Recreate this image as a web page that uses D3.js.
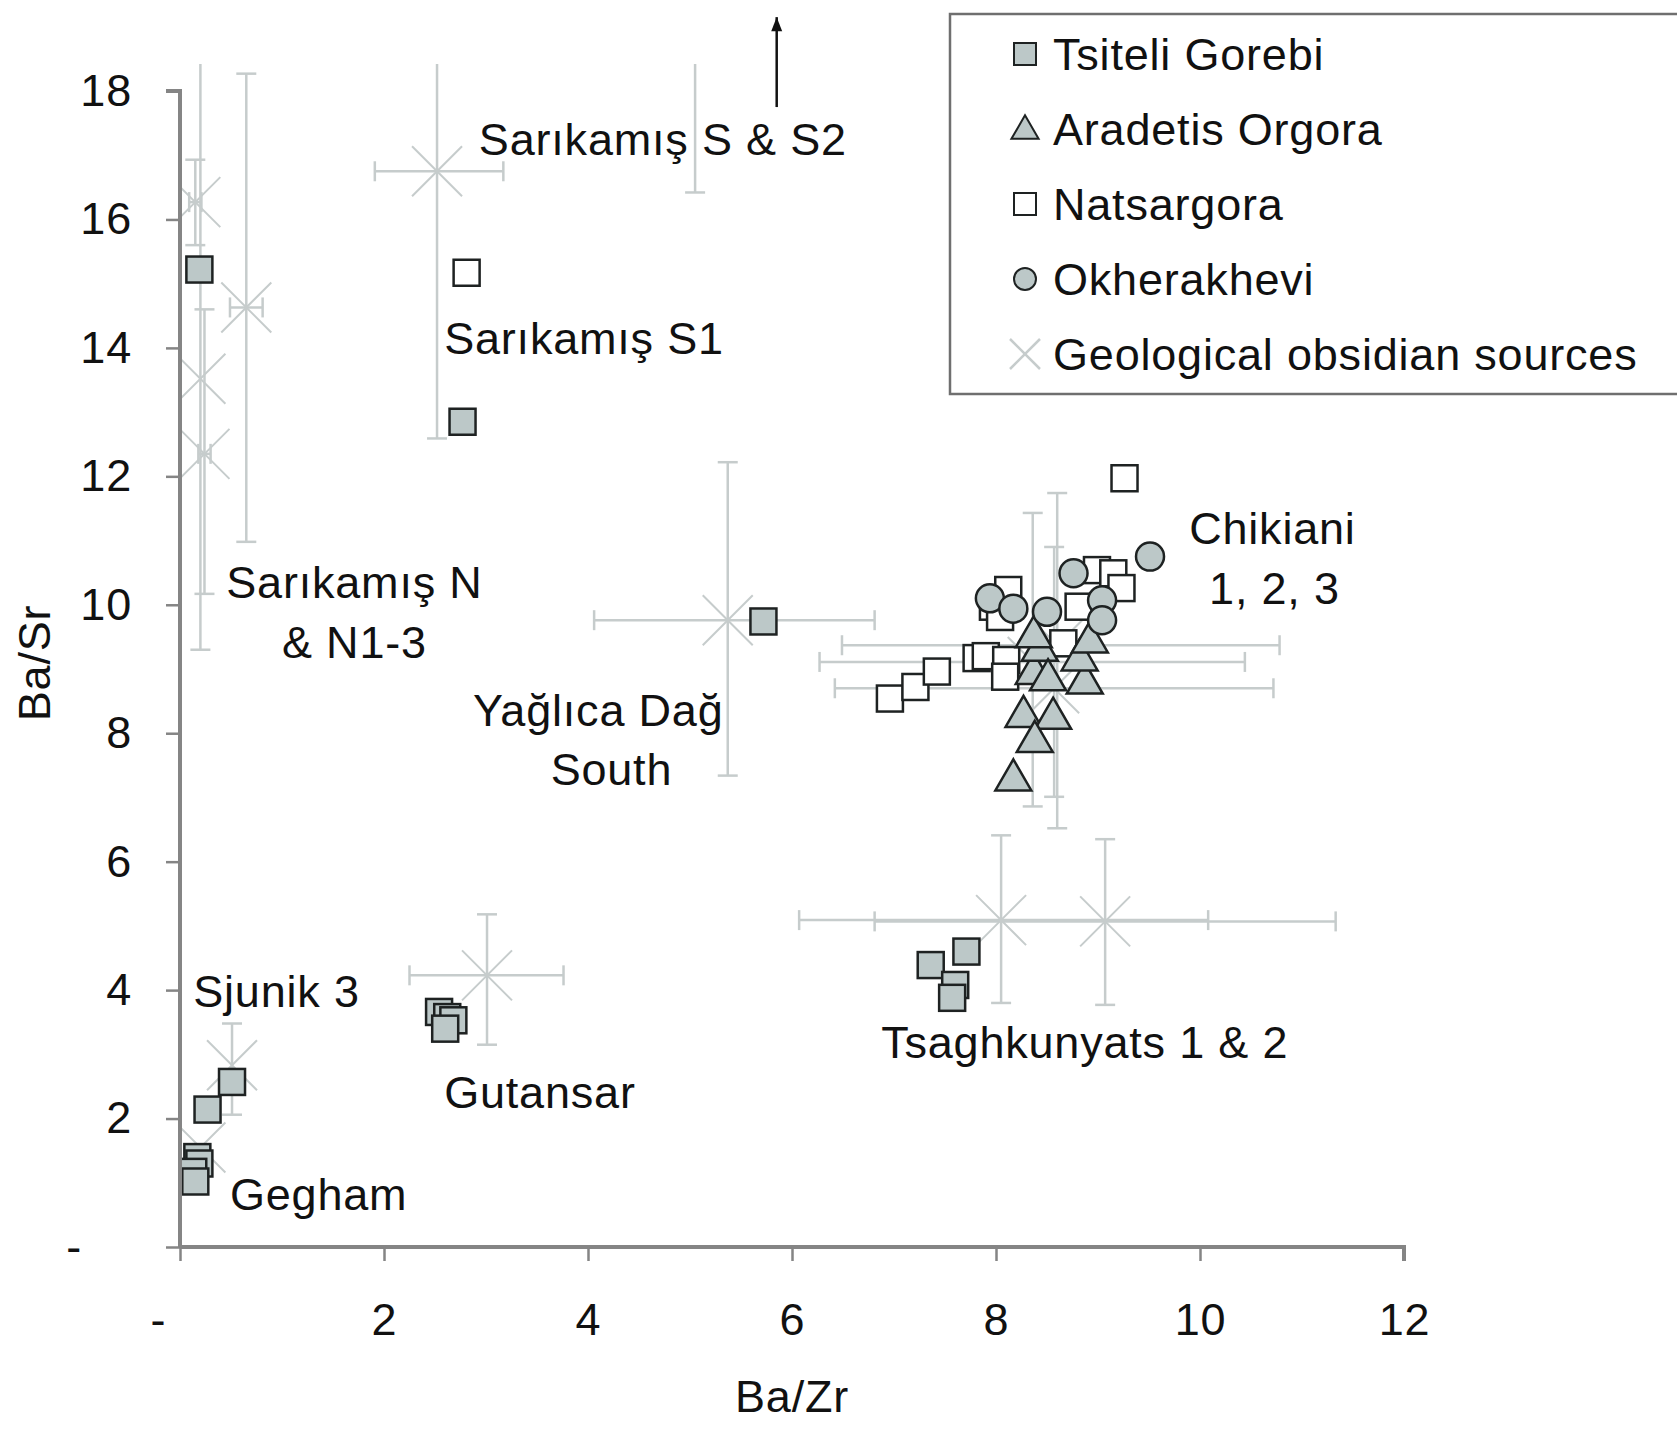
<!DOCTYPE html>
<html>
<head>
<meta charset="utf-8">
<script src="https://cdn.jsdelivr.net/npm/d3@7"></script>
<style>
  body { margin: 0; background: #fff; }
  text { font-family: "Liberation Sans", Arial, sans-serif; fill: #111; letter-spacing: 0.8px; }
</style>
</head>
<body>
<svg id="chart"></svg>
<script>
// ---- data ----
const xTicks = [0, 2, 4, 6, 8, 10, 12];
const yTicks = [0, 2, 4, 6, 8, 10, 12, 14, 16, 18];

const tsiteliGorebi = [
  [0.19, 15.22], [2.77, 12.85], [5.72, 9.74],
  [2.54, 3.66], [2.62, 3.58], [2.68, 3.53], [2.60, 3.40],
  [0.51, 2.57], [0.27, 2.14],
  [0.17, 1.40], [0.19, 1.30], [0.13, 1.17], [0.15, 1.02],
  [7.36, 4.39], [7.71, 4.60], [7.60, 4.08], [7.57, 3.88]
];

const aradetisOrgora = [
  [8.17, 7.27], [8.27, 8.26], [8.56, 8.23], [8.38, 7.87], [8.87, 8.78],
  [8.37, 8.93], [8.43, 9.29], [8.37, 9.50], [8.82, 9.14], [8.92, 9.42], [8.51, 8.83]
];

const natsargora = [
  [2.81, 15.17], [9.26, 11.97],
  [6.96, 8.54], [7.21, 8.72], [7.42, 8.96], [7.81, 9.17], [7.90, 9.20],
  [8.10, 9.14], [8.09, 8.88], [7.97, 9.97], [8.04, 9.81], [8.12, 10.23],
  [8.66, 9.40], [8.81, 9.97], [8.99, 10.54], [9.15, 10.49], [9.23, 10.26]
];

const okherakhevi = [
  [9.51, 10.75], [8.76, 10.49], [7.94, 10.10], [8.17, 9.94],
  [8.50, 9.89], [9.04, 10.07], [9.04, 9.76]
];

// geological sources: centre, x error range, y error range
const sourceX    = [2.52, 5.05, 0.15, 0.20, 0.24, 0.65, 5.37, 8.60, 8.36, 8.57, 8.05, 9.07, 3.01, 0.51, 0.20];
const sourceY    = [16.75, 21.0, 16.27, 13.52, 12.35, 14.63, 9.76, 9.37, 9.11, 8.70, 5.09, 5.07, 4.23, 2.83, 1.55];
const sourceXLo  = [1.91, null, 0.09, null, 0.18, 0.49, 4.06, 6.49, 6.27, 6.42, 6.07, 6.81, 2.25, null, null];
const sourceXHi  = [3.17, null, 0.21, null, 0.30, 0.81, 6.81, 10.78, 10.44, 10.72, 10.08, 11.33, 3.76, null, null];
const sourceYLo  = [12.59, 16.42, 15.6, 9.30, 10.17, 10.98, 7.34, 6.52, 6.86, 7.01, 3.80, 3.77, 3.15, 2.06, null];
const sourceYHi  = [20.9, 25.6, 16.93, 19.0, 14.6, 18.27, 12.22, 11.74, 11.43, 10.9, 6.41, 6.35, 5.18, 3.48, null];

const labelText = ['Sarıkamış S & S2', 'Sarıkamış S1', 'Sarıkamış N', '& N1-3', 'Yağlıca Dağ', 'South',
  'Chikiani', '1, 2, 3', 'Tsaghkunyats 1 & 2', 'Sjunik 3', 'Gutansar', 'Gegham'];
const labelX = [2.93, 2.59, 1.71, 1.71, 4.10, 4.23, 10.71, 10.73, 8.87, 0.13, 2.59, 0.49];
const labelY = [17.25, 14.15, 10.34, 9.42, 8.35, 7.43, 11.18, 10.26, 3.18, 3.98, 2.40, 0.82];
const labelAnchor = ['start', 'start', 'middle', 'middle', 'middle', 'middle', 'middle', 'middle', 'middle', 'start', 'start', 'start'];

const legendNames = ['Tsiteli Gorebi', 'Aradetis Orgora', 'Natsargora', 'Okherakhevi', 'Geological obsidian sources'];

// ---- setup ----
const W = 1677, H = 1429;
const grey = '#bcc8c8', ink = '#1e2222', light = '#c6cccc', axisGrey = '#858585';

const svg = d3.select('#chart').attr('width', W).attr('height', H);
svg.append('rect').attr('width', W).attr('height', H).attr('fill', '#fff');

const x = d3.scaleLinear().domain([0, 12]).range([180, 1404]);
const y = d3.scaleLinear().domain([0, 18]).range([1247, 91]);

svg.append('clipPath').attr('id', 'plot')
  .append('rect')
  .attr('x', x(0)).attr('y', y(18.42))
  .attr('width', x(12) - x(0) + 60).attr('height', y(0) - y(18.42));

const plot = svg.append('g').attr('clip-path', 'url(#plot)');

// error bars of the sources
const cap = 10;
const sources = sourceX.map((d, i) => ({
  x: d, y: sourceY[i], xlo: sourceXLo[i], xhi: sourceXHi[i], ylo: sourceYLo[i], yhi: sourceYHi[i]
}));

sources.forEach((s) => {
  const g = plot.append('g').attr('stroke', light).attr('stroke-width', 2.5).attr('fill', 'none');
  if (s.xlo !== null) {
    g.append('line').attr('x1', x(s.xlo)).attr('x2', x(s.xhi)).attr('y1', y(s.y)).attr('y2', y(s.y));
    [s.xlo, s.xhi].forEach((v) => {
      g.append('line').attr('x1', x(v)).attr('x2', x(v)).attr('y1', y(s.y) - cap).attr('y2', y(s.y) + cap);
    });
  }
  if (s.ylo !== null) {
    g.append('line').attr('x1', x(s.x)).attr('x2', x(s.x)).attr('y1', y(s.ylo)).attr('y2', y(s.yhi));
    [s.ylo, s.yhi].forEach((v) => {
      g.append('line').attr('x1', x(s.x) - cap).attr('x2', x(s.x) + cap).attr('y1', y(v)).attr('y2', y(v));
    });
  }
  // X marker
  const r = 25;
  g.append('path')
    .attr('d', `M${x(s.x) - r},${y(s.y) - r}L${x(s.x) + r},${y(s.y) + r}M${x(s.x) - r},${y(s.y) + r}L${x(s.x) + r},${y(s.y) - r}`)
    .attr('stroke-width', 2);
});

// sample markers
const sq = 26;
const drawSquares = (data, fill) => {
  plot.append('g').selectAll('rect').data(data).enter().append('rect')
    .attr('x', (d) => x(d[0]) - sq / 2)
    .attr('y', (d) => y(d[1]) - sq / 2)
    .attr('width', sq).attr('height', sq)
    .attr('fill', fill).attr('stroke', ink).attr('stroke-width', 2.5);
};
drawSquares(natsargora, '#fff');

plot.append('g').selectAll('path').data(aradetisOrgora).enter().append('path')
  .attr('d', d3.symbol(d3.symbolTriangle, 560))
  .attr('transform', (d) => `translate(${x(d[0])},${y(d[1])})`)
  .attr('fill', grey).attr('stroke', ink).attr('stroke-width', 2.5);

plot.append('g').selectAll('circle').data(okherakhevi).enter().append('circle')
  .attr('cx', (d) => x(d[0])).attr('cy', (d) => y(d[1])).attr('r', 14)
  .attr('fill', grey).attr('stroke', ink).attr('stroke-width', 2.5);

drawSquares(tsiteliGorebi, grey);

// axes
const yAxis = svg.append('g')
  .attr('transform', `translate(${x(0)},0)`)
  .call(d3.axisLeft(y).tickValues(yTicks).tickSize(14).tickPadding(34)
    .tickFormat((d) => (d === 0 ? '-' : d)));
const xAxis = svg.append('g')
  .attr('transform', `translate(0,${y(0)})`)
  .call(d3.axisBottom(x).tickValues(xTicks).tickSize(14).tickPadding(42)
    .tickFormat((d) => (d === 0 ? '-' : d)));

[yAxis, xAxis].forEach((a) => {
  a.select('.domain').attr('stroke', axisGrey).attr('stroke-width', 4);
  a.selectAll('.tick line').attr('stroke', axisGrey).attr('stroke-width', 2.5);
  a.selectAll('.tick text').style('font-size', '45px').attr('fill', '#111');
});
yAxis.select('.domain').attr('d', `M-14,${y(18)}H0V${y(0)}`);
xAxis.select('.domain').attr('d', `M${x(0)},0H${x(12)}V14`);
yAxis.selectAll('.tick').filter((d) => d === 0).select('text').attr('x', -98);
xAxis.selectAll('.tick').filter((d) => d === 0).select('text').attr('x', -22);

svg.append('text')
  .attr('transform', `translate(34,${(y(0) + y(18)) / 2 - 6}) rotate(-90)`)
  .attr('text-anchor', 'middle').attr('dominant-baseline', 'central')
  .style('font-size', '45px').text('Ba/Sr');
svg.append('text')
  .attr('x', x(6)).attr('y', 1396)
  .attr('text-anchor', 'middle').attr('dominant-baseline', 'central')
  .style('font-size', '45px').text('Ba/Zr');

// labels
svg.append('g').selectAll('text').data(labelText).enter().append('text')
  .attr('x', (d, i) => x(labelX[i]))
  .attr('y', (d, i) => y(labelY[i]))
  .attr('text-anchor', (d, i) => labelAnchor[i])
  .attr('dominant-baseline', 'central')
  .style('font-size', '45px')
  .text((d) => d);

// arrow for the off-scale source
svg.append('defs').append('marker')
  .attr('id', 'head').attr('viewBox', '0 0 10 14').attr('refX', 5).attr('refY', 2)
  .attr('markerUnits', 'userSpaceOnUse')
  .attr('markerWidth', 11).attr('markerHeight', 15).attr('orient', 'auto-start-reverse')
  .append('path').attr('d', 'M0,14L5,0L10,14Z').attr('fill', '#111');
svg.append('line')
  .attr('x1', x(5.85)).attr('x2', x(5.85))
  .attr('y1', y(17.75)).attr('y2', y(19.15))
  .attr('stroke', '#111').attr('stroke-width', 2.5);
svg.append('path')
  .attr('d', `M${x(5.85) - 5.5},${y(19.15) + 14}L${x(5.85)},${y(19.15)}L${x(5.85) + 5.5},${y(19.15) + 14}Z`)
  .attr('fill', '#111');

// legend
const legend = svg.append('g');
legend.append('rect')
  .attr('x', 950).attr('y', 14).attr('width', 760).attr('height', 380)
  .attr('fill', '#fff').attr('stroke', '#6f6f6f').attr('stroke-width', 2.5);

legendNames.forEach((name, i) => {
  const cy = 54 + i * 75;
  const cx = 1025;
  if (i === 0 || i === 2) {
    legend.append('rect').attr('x', cx - 11).attr('y', cy - 11).attr('width', 22).attr('height', 22)
      .attr('fill', i === 0 ? grey : '#fff').attr('stroke', ink).attr('stroke-width', 2);
  } else if (i === 1) {
    legend.append('path').attr('d', d3.symbol(d3.symbolTriangle, 320))
      .attr('transform', `translate(${cx},${cy + 2})`)
      .attr('fill', grey).attr('stroke', ink).attr('stroke-width', 2);
  } else if (i === 3) {
    legend.append('circle').attr('cx', cx).attr('cy', cy).attr('r', 11)
      .attr('fill', grey).attr('stroke', ink).attr('stroke-width', 2);
  } else {
    legend.append('path')
      .attr('d', `M${cx - 15},${cy - 15}L${cx + 15},${cy + 15}M${cx - 15},${cy + 15}L${cx + 15},${cy - 15}`)
      .attr('stroke', light).attr('stroke-width', 2.5);
  }
  legend.append('text')
    .attr('x', 1053).attr('y', cy)
    .attr('dominant-baseline', 'central')
    .style('font-size', '45px')
    .text(name);
});
</script>
</body>
</html>
